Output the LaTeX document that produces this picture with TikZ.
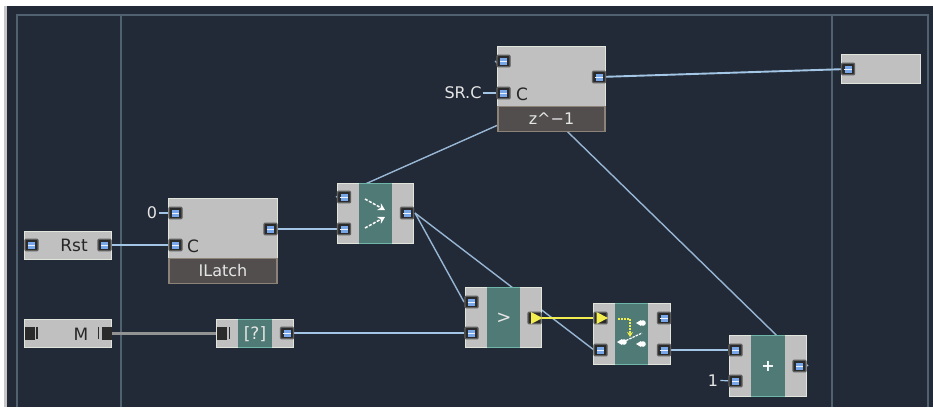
\documentclass[tikz,border=0pt]{standalone}
\usepackage{fontspec}
\setmainfont{DejaVu Sans}
\usetikzlibrary{arrows.meta}
\pgfdeclarelayer{backdrop}
\pgfdeclarelayer{wires}
\pgfsetlayers{backdrop,wires,main}
\definecolor{bgc}{HTML}{232A37}
\definecolor{framec}{HTML}{50626F}
\definecolor{facec}{HTML}{C0C0C0}
\definecolor{edgec}{HTML}{E2E5DC}
\definecolor{tealc}{HTML}{4F7A76}
\definecolor{tealedge}{HTML}{6FB5A8}
\definecolor{barc}{HTML}{524E4E}
\definecolor{baredge}{HTML}{8C8278}
\definecolor{wirec}{HTML}{A4C6E6}
\definecolor{portc}{HTML}{2B2B2B}
\definecolor{corec}{HTML}{78A8EA}
\definecolor{yelc}{HTML}{F2EE50}
\definecolor{txtc}{HTML}{E6E6E6}
\tikzset{
  module/.style={draw=edgec,line width=1.5pt,fill=facec,inner sep=0pt,rectangle},
  tealband/.style={fill=tealc,draw=none,inner sep=0pt,rectangle},
  labelbar/.style={fill=barc,draw=baredge,line width=1.5pt,inner sep=0pt,text=txtc,font=\fontsize{16}{16}\selectfont},
  portbox/.style={fill=portc,draw=portc!65!facec,line width=1.4pt,minimum width=13pt,minimum height=11.5pt,inner sep=0pt,rectangle,rounded corners=1pt},
  portcore/.style={fill=corec,draw=none,minimum width=7pt,minimum height=7pt,inner sep=0pt,rectangle},
  wire/.style={draw=wirec,line width=1.9pt},
  thinw/.style={draw=wirec!92!black,line width=1.4pt},
  graywire/.style={draw=gray!85,line width=3pt},
  yelwire/.style={draw=yelc,line width=1.6pt},
  blacktxt/.style={text=black!85,inner sep=0pt,font=\fontsize{17}{17}\selectfont},
  whitetxt/.style={text=txtc,inner sep=0pt,font=\fontsize{16}{16}\selectfont},
  iconw/.style={draw=white,line width=1.5pt},
  framel/.style={draw=framec,line width=2pt},
}
\newcommand{\modbox}[5]{\node[module,minimum width=#4pt-#2pt,minimum height=#5pt-#3pt] (#1) at ({(#2+#4)/2},{(#3+#5)/2}) {};}
\newcommand{\tealbox}[5]{%
  \node[tealband,minimum width=#3pt-#2pt,minimum height=#5pt-#4pt] (#1) at ({(#2+#3)/2},{(#4+#5)/2}) {};
  \fill[tealedge] (#1.north west) rectangle ++(#3-#2,1.5);
  \fill[tealedge] (#1.south west) rectangle ++(#3-#2,-1.5);}
\newcommand{\bport}[3]{%
  \node[portbox] (#1) at (#2,#3) {};
  \node[portcore] (#1-c) at (#1) {};
  \draw[white!85!corec,line width=.8pt] (#1-c.west) -- (#1-c.east);}
\begin{document}
\begin{tikzpicture}[x=1pt,y=-1pt]
\useasboundingbox (0,0) rectangle (933,407);
\coordinate (fa) at (17,407);
\coordinate (fb) at (17,15);
\coordinate (fc) at (928,15);
\coordinate (fd) at (928,407);
\coordinate (fe) at (121,15);
\coordinate (ff) at (121,407);
\coordinate (fg) at (832,15);
\coordinate (fh) at (832,407);
\begin{pgfonlayer}{backdrop}
\fill[white] (0,0) rectangle (933,407);
\fill[bgc] (7,6) rectangle (933,407);
\fill[black!22!white] (4,6) rectangle (7,407);
\draw[framel] (fa) -- (fb) -- (fc) -- (fd);
\draw[framel] (fe) -- (ff);
\draw[framel] (fg) -- (fh);
\end{pgfonlayer}

% modules
\modbox{rst}{24.5}{231.5}{111.5}{259.5}
\modbox{mm}{24.5}{319.5}{111.5}{347.5}
\modbox{latch}{168.5}{198.5}{277.5}{283.5}
\modbox{comb}{337.5}{183.5}{413.5}{243.5}
\modbox{quest}{216.5}{319.5}{293.5}{347.5}
\modbox{gt}{465.5}{287.5}{541.5}{347.5}
\modbox{sw}{593.5}{303.5}{670.5}{364.5}
\modbox{plus}{729.5}{335.5}{806.5}{396.5}
\modbox{zed}{497.5}{46.5}{605.5}{131.5}
\modbox{outm}{841.5}{54.5}{920.5}{83.5}

\tealbox{combt}{359}{392}{183}{244}
\tealbox{questt}{238}{272}{319}{348}
\tealbox{gtt}{487}{520}{287}{348}
\tealbox{swt}{615}{648}{303}{365}
\tealbox{plust}{751}{785}{335}{397}

\node[labelbar,minimum width=108pt,minimum height=25pt] (latchbar) at (223,271) {ILatch};
\node[labelbar,minimum width=107pt,minimum height=25pt] (zedbar) at (551.5,119) {z\^{}−1};

% ports
\bport{rstl}{31.5}{245}
\bport{rstr}{104.5}{245}
\bport{lz}{175.5}{213}
\bport{lc}{175.5}{245}
\bport{lo}{270.5}{229}
\bport{ca}{344}{197}
\bport{cb}{344}{229}
\bport{co}{407}{213}
\bport{qo}{287}{333}
\bport{ga}{471.5}{302}
\bport{gb}{471.5}{333}
\bport{sb}{600.5}{350}
\bport{sra}{664}{318}
\bport{srb}{664}{350}
\bport{pa}{735.5}{350}
\bport{pb}{735.5}{381}
\bport{po}{799.5}{366}
\bport{za}{503.5}{61}
\bport{zb}{503.5}{93}
\bport{zo}{599}{77}
\bport{oi}{848}{69}

% yellow ports
\node[portbox] (gy) at (534.5,318) {};
\fill[yelc] (531,312) -- (542.5,318) -- (531,324) -- cycle;
\node[portbox] (sy) at (600.5,318) {};
\fill[yelc] (596.5,312) -- (608,318) -- (596.5,324) -- cycle;

% audio (gray) ports
\node[fill=portc,draw=none,inner sep=0pt,minimum width=10pt,minimum height=13pt] (ml) at (29.5,333) {};
\draw[portc,line width=1.4pt] (37,327) -- (37,339);
\node[fill=portc,draw=none,inner sep=0pt,minimum width=10pt,minimum height=13pt] (mr) at (106.5,333) {};
\draw[portc,line width=1.4pt] (98.5,327) -- (98.5,339);
\node[fill=portc,draw=none,inner sep=0pt,minimum width=10pt,minimum height=13pt] (ql) at (221.5,333) {};
\draw[portc,line width=1.4pt] (229.5,327) -- (229.5,339);

% texts
\node[blacktxt] (trst) at (74,245.5) {Rst};
\node[blacktxt] (tm) at (81,334) {M};
\node[blacktxt] (tc1) at (193,246) {C};
\node[blacktxt] (tc2) at (522,94) {C};
\node[whitetxt] (t0) at (152,213) {0};
\node[whitetxt] (t1) at (713,380.5) {1};
\node[whitetxt] (tsrc) at (463,93) {SR.C};
\node[text=txtc,inner sep=0pt,font=\fontsize{17}{17}\selectfont] (tq) at (255,334) {[?]};
\node[text=txtc,inner sep=0pt,font=\fontsize{18}{18}\selectfont] (tgt) at (504,318) {>};
\node[text=white,inner sep=0pt,font=\bfseries\fontsize{16}{16}\selectfont] (tplus) at (768,366) {+};

% combiner icon
\draw[iconw,dash pattern=on 3pt off 1.5pt,-{Stealth[length=7pt,width=8pt]}] (365,199) -- (385,210);
\draw[iconw,dash pattern=on 3pt off 1.5pt,-{Stealth[length=7pt,width=8pt]}] (365,228) -- (385,217);
% switch icon
\draw[yelc,line width=1.2pt,dash pattern=on 2pt off 1pt,-{Stealth[length=5pt,width=6pt]}] (618,319) -- (630,319) -- (630,337);
\draw[white,line width=1.2pt,dash pattern=on 2.5pt off 1pt] (623,342) -- (642,333);
\fill[white] (643,323) circle (2.8pt) (641,320) -- (636,323) -- (641,326) -- cycle;
\fill[white] (643,344) circle (2.8pt) (641,341) -- (636,344) -- (641,347) -- cycle;
\fill[white] (624,342) circle (2.8pt) (622,339) -- (617,342) -- (622,345) -- cycle;

% connector free ends
\coordinate (zadot) at (495,61);
\coordinate (podot) at (808,366);
\coordinate (cadot) at (336,197);
\coordinate (zoend) at (606,77);
\coordinate (coend) at (415,213);
\coordinate (gaend) at (464,302);
\coordinate (sbend) at (594,350);

\begin{pgfonlayer}{wires}
\draw[thinw] (zoend) -- (cadot);
\draw[thinw] (podot) -- (zadot);
\draw[thinw] (coend) -- (gaend);
\draw[thinw] (coend) -- (sbend);
\draw[wire] (zo) -- (oi);
\draw[wire] (rstr) -- (lc);
\draw[wire] (lo) -- (cb);
\draw[wire] (qo) -- (gb);
\draw[wire] (srb) -- (pa);
\draw[graywire] (mr) -- (ql);
\draw[wirec,line width=1.2pt] (t0.east) ++(2,0) -- (lz);
\draw[wirec,line width=1.2pt] (tsrc.east) ++(1,0) -- (zb);
\draw[wirec,line width=1.2pt] (t1.east) ++(2,0) -- (pb);
\end{pgfonlayer}
\draw[yelwire] (gy.east) -- (sy.west);
\end{tikzpicture}
\end{document}
